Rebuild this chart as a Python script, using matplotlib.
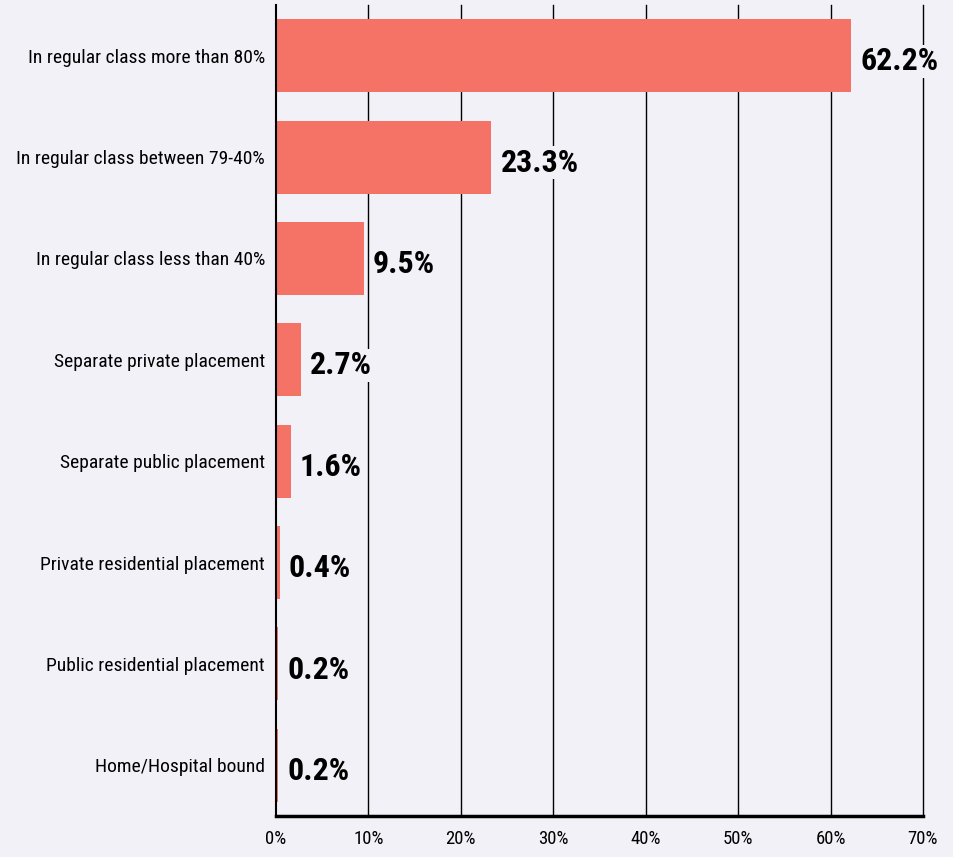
import matplotlib
matplotlib.use("Agg")
import matplotlib.pyplot as plt
from matplotlib.ticker import FuncFormatter

categories = [
    "In regular class more than 80%",
    "In regular class between 79-40%",
    "In regular class less than 40%",
    "Separate private placement",
    "Separate public placement",
    "Private residential placement",
    "Public residential placement",
    "Home/Hospital bound",
]
values = [62.2, 23.3, 9.5, 2.7, 1.6, 0.4, 0.2, 0.2]
x_ticks = [0, 10, 20, 30, 40, 50, 60, 70]

bg = "#f3f1f8"
bar_color = "#f47366"
plt.rcParams["font.family"] = ["Roboto Condensed", "DejaVu Sans"]
plt.rcParams["font.stretch"] = "condensed"

fig = plt.figure(figsize=(9.54, 8.57), dpi=100, facecolor=bg)
ax = fig.add_axes([0.2893, 0.0478, 0.6782, 0.9464])
ax.set_facecolor(bg)

y = list(range(len(categories)))
ax.barh(y, values, height=0.72, color=bar_color, zorder=2)
ax.set_ylim(len(categories) - 0.5, -0.5)
ax.set_xlim(0, 70)

ax.set_xticks(x_ticks)
ax.xaxis.set_major_formatter(FuncFormatter(lambda v, p: f"{v:.0f}%"))
ax.tick_params(axis="x", length=0, pad=10, labelsize=13.5)
ax.set_yticks(y)
ax.set_yticklabels(categories, fontsize=14)
ax.tick_params(axis="y", length=0, pad=8)

# vertical grid lines (the one at 70% sits on the axes edge)
for t in x_ticks[1:]:
    ax.axvline(t, color="black", linewidth=1, zorder=1, clip_on=False)
for s in ["top", "right"]:
    ax.spines[s].set_visible(False)
ax.spines["left"].set_linewidth(1.5)
ax.spines["bottom"].set_linewidth(2.5)

for i, v in enumerate(values):
    ax.text(v + 1.0, i + 0.055, f"{v}%", va="center", ha="left",
            fontsize=23, fontweight="bold", zorder=3,
            bbox=dict(facecolor=bg, edgecolor="none", pad=1))

fig.savefig("out.png", dpi=100, facecolor=bg)
